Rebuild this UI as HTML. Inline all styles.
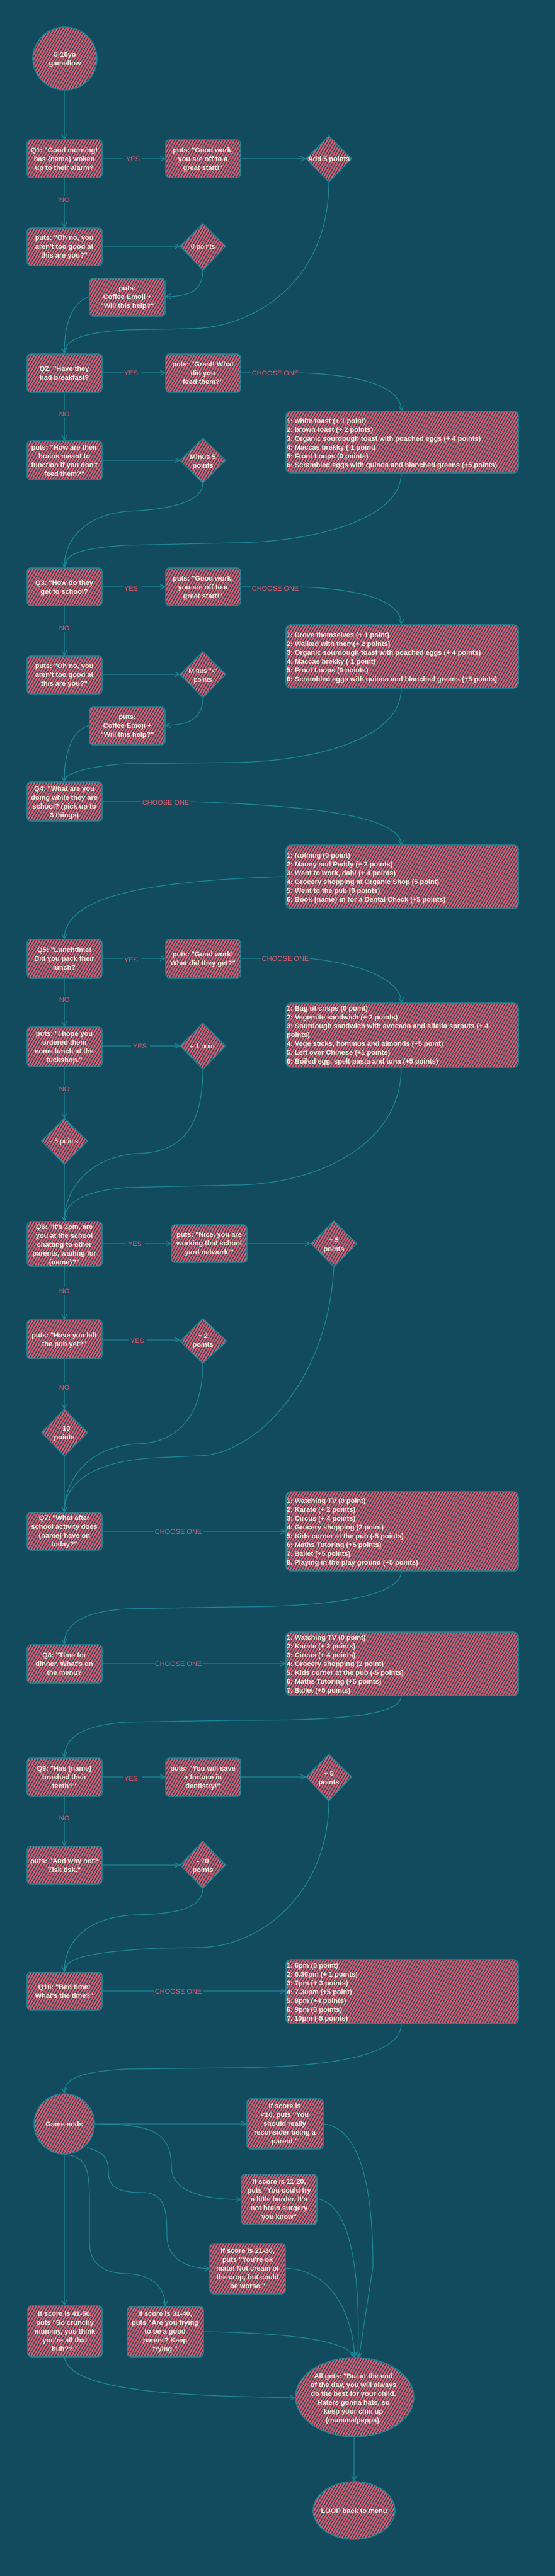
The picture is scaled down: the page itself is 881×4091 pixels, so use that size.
<!DOCTYPE html>
<html><head><meta charset="utf-8"><style>
html,body{margin:0;padding:0;background:#124b5e;}
svg{display:block}
text{font-family:"Liberation Sans",sans-serif;font-weight:bold;font-size:11px;fill:#f2eedc}
.c{text-anchor:middle}
.lb{font-weight:normal;fill:#e05a6c;font-size:11px;text-anchor:middle}
.n{fill:url(#h);stroke:#1c8796;stroke-width:1.6}
.l{fill:none;stroke:#1c8796;stroke-width:1.3}
</style></head><body>
<svg width="881" height="4091" viewBox="0 0 881 4091" xmlns="http://www.w3.org/2000/svg">
<defs>
<pattern id="h" width="4" height="4" patternUnits="userSpaceOnUse" patternTransform="rotate(30)">
<rect width="4" height="4" fill="#1d4c5e"/>
<rect width="2.5" height="4" fill="#df5a6e"/>
</pattern>
<marker id="a" markerWidth="10" markerHeight="10" refX="8" refY="4" orient="auto" markerUnits="userSpaceOnUse">
<path d="M0,0 L8,4 L0,8" fill="none" stroke="#1c8796" stroke-width="1.3"/>
</marker>
</defs>
<rect width="881" height="4091" fill="#124b5e"/>

<g class="l" marker-end="url(#a)">
<path class="l" d="M102 143 L102 221"/>
<path class="l" d="M162 252 L262 252"/>
<path class="l" d="M382 252 L485 252"/>
<path class="l" d="M102 282 L102 361"/>
<path class="l" d="M162 391 L285 391"/>
<path class="l" d="M322 429 C322 462 300 471 263 471"/>
<path class="l" d="M142 471 C112 480 102 520 102 561"/>
<path class="l" d="M522 289 C522 450 400 522 300 522 L200 524 C130 528 102 540 102 561"/>
<path class="l" d="M162 592 L262 592"/>
<path class="l" d="M382 592 L475 592 C560 595 637 610 637 652"/>
<path class="l" d="M102 623 L102 699"/>
<path class="l" d="M162 731 L285 731"/>
<path class="l" d="M322 767 C322 800 260 810 200 812 C130 820 102 860 102 901"/>
<path class="l" d="M637 751 C637 830 480 862 370 862 L200 866 C130 870 102 880 102 901"/>
<path class="l" d="M162 932 L262 932"/>
<path class="l" d="M382 932 L475 932 C560 935 637 950 637 991"/>
<path class="l" d="M102 962 L102 1041"/>
<path class="l" d="M162 1071 L285 1071"/>
<path class="l" d="M322 1108 C322 1140 300 1152 263 1152"/>
<path class="l" d="M142 1152 C112 1160 102 1200 102 1241"/>
<path class="l" d="M637 1093 C637 1180 480 1210 370 1211 L200 1213 C130 1218 102 1230 102 1241"/>
<path class="l" d="M162 1273 L300 1273 C520 1280 637 1300 637 1342"/>
<path class="l" d="M454 1392 C250 1398 102 1420 102 1491"/>
<path class="l" d="M162 1522 L262 1522"/>
<path class="l" d="M382 1522 L490 1522 C570 1530 637 1555 637 1592"/>
<path class="l" d="M102 1553 L102 1630"/>
<path class="l" d="M162 1661 L285 1661"/>
<path class="l" d="M102 1694 L102 1775"/>
<path class="l" d="M102 1849 L102 1939"/>
<path class="l" d="M322 1698 C322 1800 280 1832 215 1832 C130 1840 102 1900 102 1939"/>
<path class="l" d="M637 1695 C637 1820 500 1882 370 1882 L200 1886 C130 1892 102 1910 102 1939"/>
<path class="l" d="M162 1975 L271 1975"/>
<path class="l" d="M392 1975 L492 1975"/>
<path class="l" d="M102 2011 L102 2095"/>
<path class="l" d="M162 2128 L285 2128"/>
<path class="l" d="M102 2158 L102 2237"/>
<path class="l" d="M102 2312 L102 2401"/>
<path class="l" d="M322 2165 C322 2250 280 2293 215 2293 C130 2300 102 2360 102 2401"/>
<path class="l" d="M530 2012 C520 2200 400 2312 315 2312 L250 2315 C140 2320 102 2360 102 2401"/>
<path class="l" d="M162 2432 L453 2432"/>
<path class="l" d="M637 2495 C637 2540 500 2552 370 2552 L200 2555 C130 2560 102 2580 102 2611"/>
<path class="l" d="M162 2642 L453 2642"/>
<path class="l" d="M637 2693 C637 2730 500 2732 370 2732 L200 2735 C130 2740 102 2760 102 2791"/>
<path class="l" d="M162 2822 L262 2822"/>
<path class="l" d="M382 2822 L485 2822"/>
<path class="l" d="M102 2853 L102 2931"/>
<path class="l" d="M162 2962 L285 2962"/>
<path class="l" d="M322 2999 C322 3030 280 3040 215 3041 C130 3045 102 3090 102 3131"/>
<path class="l" d="M522 2860 C522 3000 420 3092 315 3093 L250 3094 C140 3100 102 3110 102 3131"/>
<path class="l" d="M162 3162 L453 3162"/>
<path class="l" d="M637 3214 C637 3270 500 3283 370 3284 L200 3286 C130 3290 102 3300 102 3324"/>
<path class="l" d="M150 3373 L391 3373"/>
<path class="l" d="M150 3373 C230 3374 272 3380 272 3440 C272 3480 320 3493 382 3493"/>
<path class="l" d="M138 3410 C165 3420 172 3425 172 3450 C172 3480 200 3482 230 3482 C262 3485 265 3510 265 3550 C265 3590 300 3602 332 3603"/>
<path class="l" d="M104 3422 C140 3425 142 3450 142 3500 L142 3560 C142 3600 170 3610 200 3611 C250 3612 262 3640 262 3662"/>
<path class="l" d="M102 3422 L102 3661"/>
<path class="l" d="M102 3743 C110 3800 300 3805 468 3808"/>
<path class="l" d="M323 3703 C450 3705 550 3715 562 3743"/>
<path class="l" d="M452 3602 C530 3605 560 3680 563 3743"/>
<path class="l" d="M503 3492 C560 3500 572 3620 568 3743"/>
<path class="l" d="M513 3373 C580 3380 592 3500 592 3600 L570 3743"/>
<path class="l" d="M562 3870 L562 3940"/>
</g>

<g>
<rect x="196" y="246" width="30" height="12" fill="#124b5e"/><text class="lb" x="211" y="256">YES</text>
<rect x="90" y="311" width="24" height="12" fill="#124b5e"/><text class="lb" x="102" y="321">NO</text>
<rect x="196" y="586" width="30" height="12" fill="#124b5e"/><text class="lb" x="208" y="596">YES</text>
<rect x="398" y="586" width="78" height="12" fill="#124b5e"/><text class="lb" x="437" y="596">CHOOSE ONE</text>
<rect x="90" y="651" width="24" height="12" fill="#124b5e"/><text class="lb" x="102" y="661">NO</text>
<rect x="196" y="926" width="30" height="12" fill="#124b5e"/><text class="lb" x="208" y="938">YES</text>
<rect x="398" y="926" width="78" height="12" fill="#124b5e"/><text class="lb" x="437" y="938">CHOOSE ONE</text>
<rect x="90" y="991" width="24" height="12" fill="#124b5e"/><text class="lb" x="102" y="1001">NO</text>
<rect x="224" y="1268" width="78" height="12" fill="#124b5e"/><text class="lb" x="263" y="1278">CHOOSE ONE</text>
<rect x="196" y="1516" width="30" height="12" fill="#124b5e"/><text class="lb" x="208" y="1528">YES</text>
<rect x="414" y="1516" width="78" height="12" fill="#124b5e"/><text class="lb" x="453" y="1526">CHOOSE ONE</text>
<rect x="90" y="1581" width="24" height="12" fill="#124b5e"/><text class="lb" x="102" y="1591">NO</text>
<rect x="208" y="1655" width="30" height="12" fill="#124b5e"/><text class="lb" x="222" y="1665">YES</text>
<rect x="90" y="1723" width="24" height="12" fill="#124b5e"/><text class="lb" x="102" y="1733">NO</text>
<rect x="200" y="1969" width="30" height="12" fill="#124b5e"/><text class="lb" x="214" y="1979">YES</text>
<rect x="90" y="2044" width="24" height="12" fill="#124b5e"/><text class="lb" x="102" y="2054">NO</text>
<rect x="204" y="2122" width="30" height="12" fill="#124b5e"/><text class="lb" x="218" y="2133">YES</text>
<rect x="90" y="2197" width="24" height="12" fill="#124b5e"/><text class="lb" x="102" y="2207">NO</text>
<rect x="244" y="2426" width="78" height="12" fill="#124b5e"/><text class="lb" x="283" y="2436">CHOOSE ONE</text>
<rect x="244" y="2636" width="78" height="12" fill="#124b5e"/><text class="lb" x="283" y="2646">CHOOSE ONE</text>
<rect x="196" y="2816" width="30" height="12" fill="#124b5e"/><text class="lb" x="208" y="2828">YES</text>
<rect x="90" y="2881" width="24" height="12" fill="#124b5e"/><text class="lb" x="102" y="2891">NO</text>
<rect x="244" y="3156" width="78" height="12" fill="#124b5e"/><text class="lb" x="283" y="3166">CHOOSE ONE</text>
</g>

<ellipse class="n" cx="103" cy="93" rx="51" ry="50"/>
<text class="c" x="103" y="90">5-10yo</text><text class="c" x="103" y="104">gameflow</text>

<rect class="n" x="43" y="222" width="119" height="60" rx="6"/>
<text class="c" x="102" y="242">Q1: "Good morning!<tspan x="102" dy="14">has {name} woken</tspan><tspan x="102" dy="14">up to their alarm?</tspan></text>
<rect class="n" x="263" y="222" width="119" height="60" rx="6"/>
<text class="c" x="322" y="242">puts: "Good work,<tspan x="322" dy="14">you are off to a</tspan><tspan x="322" dy="14">great start!"</tspan></text>
<path class="n" d="M522 216 L558 252 L522 289 L486 252 Z"/>
<text class="c" x="522" y="256">Add 5 points</text>

<rect class="n" x="43" y="362" width="119" height="60" rx="6"/>
<text class="c" x="102" y="381">puts: "Oh no, you<tspan x="102" dy="14">aren't too good at</tspan><tspan x="102" dy="14">this are you?"</tspan></text>
<path class="n" d="M322 355 L358 391 L322 429 L286 391 Z"/>
<text class="c" x="322" y="395" style="font-weight:normal">0 points</text>
<rect class="n" x="142" y="442" width="120" height="60" rx="6"/>
<text class="c" x="202" y="461">puts:<tspan x="202" dy="14">Coffee Emoji +</tspan><tspan x="202" dy="14">"Will this help?"</tspan></text>

<rect class="n" x="43" y="562" width="119" height="61" rx="6"/>
<text class="c" x="102" y="589">Q2: "Have they<tspan x="102" dy="14">had breakfast?</tspan></text>
<rect class="n" x="263" y="562" width="119" height="61" rx="6"/>
<text class="c" x="322" y="582">puts: "Great! What<tspan x="322" dy="14">did you</tspan><tspan x="322" dy="14">feed them?"</tspan></text>
<rect class="n" x="454" y="653" width="369" height="98" rx="8"/>
<text x="455" y="672">1: white toast (+ 1 point)<tspan x="455" dy="14">2: brown toast (+ 2 points)</tspan><tspan x="455" dy="14">3: Organic sourdough toast with poached eggs (+ 4 points)</tspan><tspan x="455" dy="14">4: Maccas brekky (-1 point)</tspan><tspan x="455" dy="14">5: Froot Loops (0 points)</tspan><tspan x="455" dy="14">6: Scrambled eggs with quinoa and blanched greens (+5 points)</tspan></text>

<rect class="n" x="43" y="700" width="119" height="62" rx="6"/>
<text class="c" x="102" y="714">puts: "How are their<tspan x="102" dy="14">brains meant to</tspan><tspan x="102" dy="14">function if you don't</tspan><tspan x="102" dy="14">feed them?"</tspan></text>
<path class="n" d="M322 696 L358 731 L322 767 L286 731 Z"/>
<text class="c" x="322" y="729">Minus 5<tspan x="322" dy="14">points</tspan></text>

<rect class="n" x="43" y="902" width="119" height="60" rx="6"/>
<text class="c" x="102" y="929">Q3: "How do they<tspan x="102" dy="14">get to school?</tspan></text>
<rect class="n" x="263" y="902" width="119" height="60" rx="6"/>
<text class="c" x="322" y="922">puts: "Good work,<tspan x="322" dy="14">you are off to a</tspan><tspan x="322" dy="14">great start!"</tspan></text>
<rect class="n" x="454" y="992" width="369" height="101" rx="8"/>
<text x="455" y="1012">1: Drove themselves (+ 1 point)<tspan x="455" dy="14">2: Walked with them(+ 2 points)</tspan><tspan x="455" dy="14">3: Organic sourdough toast with poached eggs (+ 4 points)</tspan><tspan x="455" dy="14">4: Maccas brekky (-1 point)</tspan><tspan x="455" dy="14">5: Froot Loops (0 points)</tspan><tspan x="455" dy="14">6: Scrambled eggs with quinoa and blanched greens (+5 points)</tspan></text>

<rect class="n" x="43" y="1042" width="119" height="60" rx="6"/>
<text class="c" x="102" y="1061">puts: "Oh no, you<tspan x="102" dy="14">aren't too good at</tspan><tspan x="102" dy="14">this are you?"</tspan></text>
<path class="n" d="M322 1035 L358 1071 L322 1108 L286 1071 Z"/>
<text class="c" x="322" y="1069" style="font-weight:normal">Minus "x"<tspan x="322" dy="14">points</tspan></text>
<rect class="n" x="142" y="1123" width="120" height="60" rx="6"/>
<text class="c" x="202" y="1142">puts:<tspan x="202" dy="14">Coffee Emoji +</tspan><tspan x="202" dy="14">"Will this help?"</tspan></text>

<rect class="n" x="43" y="1242" width="119" height="62" rx="6"/>
<text class="c" x="102" y="1256">Q4: "What are you<tspan x="102" dy="14">doing while they are</tspan><tspan x="102" dy="14">school? (pick up to</tspan><tspan x="102" dy="14">3 things)</tspan></text>
<rect class="n" x="454" y="1342" width="369" height="101" rx="8"/>
<text x="455" y="1362">1: Nothing (0 point)<tspan x="455" dy="14">2: Manny and Peddy (+ 2 points)</tspan><tspan x="455" dy="14">3: Went to work, dah! (+ 4 points)</tspan><tspan x="455" dy="14">4: Grocery shopping at Organic Shop (5 point)</tspan><tspan x="455" dy="14">5: Went to the pub (0 points)</tspan><tspan x="455" dy="14">6: Book {name} in for a Dental Check (+5 points)</tspan></text>

<rect class="n" x="43" y="1492" width="119" height="61" rx="6"/>
<text class="c" x="102" y="1512">Q5: "Lunchtime!<tspan x="102" dy="14">Did you pack their</tspan><tspan x="102" dy="14">lunch?</tspan></text>
<rect class="n" x="263" y="1492" width="119" height="61" rx="6"/>
<text class="c" x="322" y="1519">puts: "Good work!<tspan x="322" dy="14">What did they get?"</tspan></text>
<rect class="n" x="454" y="1593" width="369" height="102" rx="8"/>
<text x="455" y="1605">1: Bag of crisps (0 point)<tspan x="455" dy="14">2: Vegemite sandwich (+ 2 points)</tspan><tspan x="455" dy="14">3: Sourdough sandwich with avocado and alfalfa sprouts (+ 4</tspan><tspan x="455" dy="14">points)</tspan><tspan x="455" dy="14">4: Vege sticks, hommus and almonds (+5 point)</tspan><tspan x="455" dy="14">5: Left over Chinese (+1 points)</tspan><tspan x="455" dy="14">6: Boiled egg, spelt pasta and tuna (+5 points)</tspan></text>

<rect class="n" x="43" y="1631" width="119" height="63" rx="6"/>
<text class="c" x="102" y="1645">puts: "I hope you<tspan x="102" dy="14">ordered them</tspan><tspan x="102" dy="14">some lunch at the</tspan><tspan x="102" dy="14">tuckshop."</tspan></text>
<path class="n" d="M322 1625 L358 1661 L322 1698 L286 1661 Z"/>
<text class="c" x="322" y="1665" style="font-weight:normal">+ 1 point</text>
<path class="n" d="M102 1776 L139 1812 L102 1849 L66 1812 Z"/>
<text class="c" x="102" y="1816" style="font-weight:normal">- 5 points</text>

<rect class="n" x="43" y="1940" width="119" height="71" rx="6"/>
<text class="c" x="102" y="1952">Q6: "It's 3pm, are<tspan x="102" dy="14">you at the school</tspan><tspan x="102" dy="14">chatting to other</tspan><tspan x="102" dy="14">parents, waiting for</tspan><tspan x="102" dy="14">{name}?"</tspan></text>
<rect class="n" x="272" y="1945" width="120" height="60" rx="6"/>
<text class="c" x="332" y="1964">puts: "Nice, you are<tspan x="332" dy="14">working that school</tspan><tspan x="332" dy="14">yard network!"</tspan></text>
<path class="n" d="M530 1939 L566 1975 L530 2012 L494 1975 Z"/>
<text class="c" x="530" y="1973">+ 5<tspan x="530" dy="14">points</tspan></text>

<rect class="n" x="43" y="2096" width="119" height="62" rx="6"/>
<text class="c" x="102" y="2124">puts: "Have you left<tspan x="102" dy="14">the pub yet?"</tspan></text>
<path class="n" d="M322 2094 L360 2130 L322 2165 L286 2130 Z"/>
<text class="c" x="322" y="2125">+ 2<tspan x="322" dy="14">points</tspan></text>
<path class="n" d="M102 2238 L139 2275 L102 2312 L66 2275 Z"/>
<text class="c" x="102" y="2272">- 10<tspan x="102" dy="14">points</tspan></text>

<rect class="n" x="43" y="2402" width="119" height="60" rx="6"/>
<text class="c" x="102" y="2414">Q7: "What after<tspan x="102" dy="14">school activity does</tspan><tspan x="102" dy="14">{name} have on</tspan><tspan x="102" dy="14">today?"</tspan></text>
<rect class="n" x="454" y="2369" width="369" height="126" rx="8"/>
<text x="455" y="2387">1: Watching TV (0 point)<tspan x="455" dy="14">2: Karate (+ 2 points)</tspan><tspan x="455" dy="14">3: Circus (+ 4 points)</tspan><tspan x="455" dy="14">4: Grocery shopping (2 point)</tspan><tspan x="455" dy="14">5: Kids corner at the pub (-5 points)</tspan><tspan x="455" dy="14">6: Maths Tutoring (+5 points)</tspan><tspan x="455" dy="14">7. Ballet (+5 points)</tspan><tspan x="455" dy="14">8. Playing in the play ground (+5 points)</tspan></text>

<rect class="n" x="43" y="2612" width="119" height="61" rx="6"/>
<text class="c" x="102" y="2632">Q8: "Time for<tspan x="102" dy="14">dinner. What's on</tspan><tspan x="102" dy="14">the menu?</tspan></text>
<rect class="n" x="454" y="2592" width="369" height="101" rx="8"/>
<text x="455" y="2604">1: Watching TV (0 point)<tspan x="455" dy="14">2: Karate (+ 2 points)</tspan><tspan x="455" dy="14">3: Circus (+ 4 points)</tspan><tspan x="455" dy="14">4: Grocery shopping (2 point)</tspan><tspan x="455" dy="14">5: Kids corner at the pub (-5 points)</tspan><tspan x="455" dy="14">6: Maths Tutoring (+5 points)</tspan><tspan x="455" dy="14">7. Ballet (+5 points)</tspan></text>

<rect class="n" x="43" y="2792" width="119" height="61" rx="6"/>
<text class="c" x="102" y="2812">Q9: "Has {name}<tspan x="102" dy="14">brushed their</tspan><tspan x="102" dy="14">teeth?"</tspan></text>
<rect class="n" x="263" y="2792" width="119" height="61" rx="6"/>
<text class="c" x="322" y="2812">puts: "You will save<tspan x="322" dy="14">a fortune in</tspan><tspan x="322" dy="14">dentistry!"</tspan></text>
<path class="n" d="M522 2786 L558 2822 L522 2860 L486 2822 Z"/>
<text class="c" x="522" y="2820">+ 5<tspan x="522" dy="14">points</tspan></text>

<rect class="n" x="43" y="2932" width="119" height="60" rx="6"/>
<text class="c" x="102" y="2959">puts: "And why not?<tspan x="102" dy="14">Tisk tisk."</tspan></text>
<path class="n" d="M322 2924 L358 2962 L322 2999 L286 2962 Z"/>
<text class="c" x="322" y="2959">- 10<tspan x="322" dy="14">points</tspan></text>

<rect class="n" x="43" y="3132" width="119" height="60" rx="6"/>
<text class="c" x="102" y="3159">Q10: "Bed time!<tspan x="102" dy="14">What's the time?"</tspan></text>
<rect class="n" x="454" y="3112" width="369" height="102" rx="8"/>
<text x="455" y="3125">1: 6pm (0 point)<tspan x="455" dy="14">2: 6.30pm (+ 1 points)</tspan><tspan x="455" dy="14">3: 7pm (+ 3 points)</tspan><tspan x="455" dy="14">4: 7.30pm (+5 point)</tspan><tspan x="455" dy="14">5: 8pm (+4 points)</tspan><tspan x="455" dy="14">6: 9pm  (0 points)</tspan><tspan x="455" dy="14">7. 10pm (-5 points)</tspan></text>

<ellipse class="n" cx="102" cy="3373" rx="48" ry="48"/>
<text class="c" x="102" y="3377">Game ends</text>
<rect class="n" x="392" y="3333" width="121" height="80" rx="6"/>
<text class="c" x="452" y="3348">If score is<tspan x="452" dy="14">&lt;10, puts "You</tspan><tspan x="452" dy="14">should really</tspan><tspan x="452" dy="14">reconsider being a</tspan><tspan x="452" dy="14">parent."</tspan></text>
<rect class="n" x="383" y="3453" width="120" height="80" rx="6"/>
<text class="c" x="443" y="3468">If score is 11-20,<tspan x="443" dy="14">puts "You could try</tspan><tspan x="443" dy="14">a little harder. It's</tspan><tspan x="443" dy="14">not brain surgery</tspan><tspan x="443" dy="14">you know"</tspan></text>
<rect class="n" x="333" y="3563" width="120" height="80" rx="6"/>
<text class="c" x="393" y="3578">If score is 21-30,<tspan x="393" dy="14">puts "You're ok</tspan><tspan x="393" dy="14">mate! Not cream of</tspan><tspan x="393" dy="14">the crop, but could</tspan><tspan x="393" dy="14">be worse."</tspan></text>
<rect class="n" x="44" y="3662" width="118" height="81" rx="6"/>
<text class="c" x="103" y="3678">If score is 41-50,<tspan x="103" dy="14">puts "So crunchy</tspan><tspan x="103" dy="14">mummy, you think</tspan><tspan x="103" dy="14">you're all that</tspan><tspan x="103" dy="14">huh??."</tspan></text>
<rect class="n" x="202" y="3663" width="121" height="80" rx="6"/>
<text class="c" x="262" y="3678">If score is 31-40,<tspan x="262" dy="14">puts "Are you trying</tspan><tspan x="262" dy="14">to be a good</tspan><tspan x="262" dy="14">parent? Keep</tspan><tspan x="262" dy="14">trying."</tspan></text>

<ellipse class="n" cx="563" cy="3807" rx="94" ry="63"/>
<text class="c" x="561" y="3777">All gets: "But at the end<tspan x="561" dy="14">of the day, you will always</tspan><tspan x="561" dy="14">do the best for your child.</tspan><tspan x="561" dy="14">Haters gonna hate, so</tspan><tspan x="561" dy="14">keep your chin up</tspan><tspan x="561" dy="14">(mumma/pappa).</tspan></text>
<ellipse class="n" cx="562" cy="3987" rx="65" ry="46"/>
<text class="c" x="562" y="3991">LOOP back to menu</text>
</svg>
</body></html>
